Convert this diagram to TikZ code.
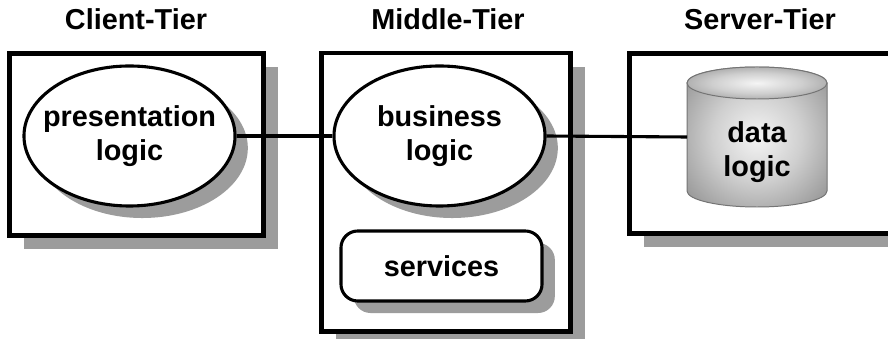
\documentclass[tikz,border=0pt]{standalone}
\usepackage{fontspec}
\setmainfont{Liberation Sans}
\usepackage{tikz}
\usetikzlibrary{shapes.geometric,shadows}
\definecolor{shadowc}{HTML}{9C9C9C}
\definecolor{cylmidc}{HTML}{CFCFCF}
\definecolor{cylc}{HTML}{9A9A9A}
\definecolor{cyledgec}{HTML}{747474}
\pgfdeclareradialshading{dbshade}{\pgfpoint{0bp}{0bp}}{%
  color(0bp)=(white!96!black); color(16bp)=(cylmidc); color(32bp)=(cylc); color(80bp)=(cylc)}
\tikzset{
  tier/.style={draw, fill=white, line width=2.9pt, inner sep=0pt,
    drop shadow={shadow xshift=0.36cm, shadow yshift=-0.33cm, fill=shadowc, opacity=1}},
  logic/.style={ellipse, draw, fill=white, line width=2.2pt, inner sep=0pt,
    minimum width=5.275cm, minimum height=3.5cm,
    drop shadow={shadow xshift=0.32cm, shadow yshift=-0.3cm, fill=shadowc, opacity=1}},
  svc/.style={draw, fill=white, line width=2.2pt, rounded corners=0.42cm,
    minimum width=5.025cm, minimum height=1.75cm,
    drop shadow={shadow xshift=0.32cm, shadow yshift=-0.3cm, fill=shadowc, opacity=1}},
  txt/.style={font=\fontsize{20.5}{24}\selectfont\bfseries, align=center, inner sep=0pt},
  link/.style={draw, line width=2.2pt},
  cyl/.style={shading=dbshade, draw=cyledgec, line width=0.7pt},
}

\begin{document}
\begin{tikzpicture}[x=0.025cm, y=0.025cm]
\useasboundingbox (0,0) rectangle (888,-339);
% tier frames
\node[tier, minimum width=6.35cm, minimum height=4.55cm] (client) at (136.5,-144.5) {};
\node[tier, minimum width=6.225cm, minimum height=6.95cm] (middle) at (446,-192.5) {};
\node[tier, minimum width=6.56cm, minimum height=4.5cm] (server) at (760.75,-143.5) {};
% tier titles
\node[txt, anchor=base] (clientt) at (136,-30) {Client-Tier};
\node[txt, anchor=base] (middlet) at (448,-30) {Middle-Tier};
\node[txt, anchor=base] (servert) at (760,-30) {Server-Tier};
% inside the tiers
\node[logic] (pres) at (129.5,-136) {};
\node[txt] (prest) at (pres) {presentation\\logic};
\node[logic] (busi) at (439.5,-136) {};
\node[txt] (busit) at (busi) {business\\logic};
\node[svc] (serv) at (441.5,-266) {};
\node[txt] (servt) at (serv) {services};
% database
\shade[cyl] (687,-83) -- (687,-191) arc[start angle=180, end angle=360, x radius=70, y radius=16]
  -- (827,-83) arc[start angle=0, end angle=180, x radius=70, y radius=16] -- cycle;
\shade[cyl] (757,-83) ellipse[x radius=70, y radius=16];
\coordinate (dbin) at (687,-137);
\node[txt] (data) at (757,-152) {data\\logic};
% links
\draw[link] (pres.east) -- (busi.west);
\draw[link] (busi.east) -- (dbin);
\end{tikzpicture}
\end{document}
